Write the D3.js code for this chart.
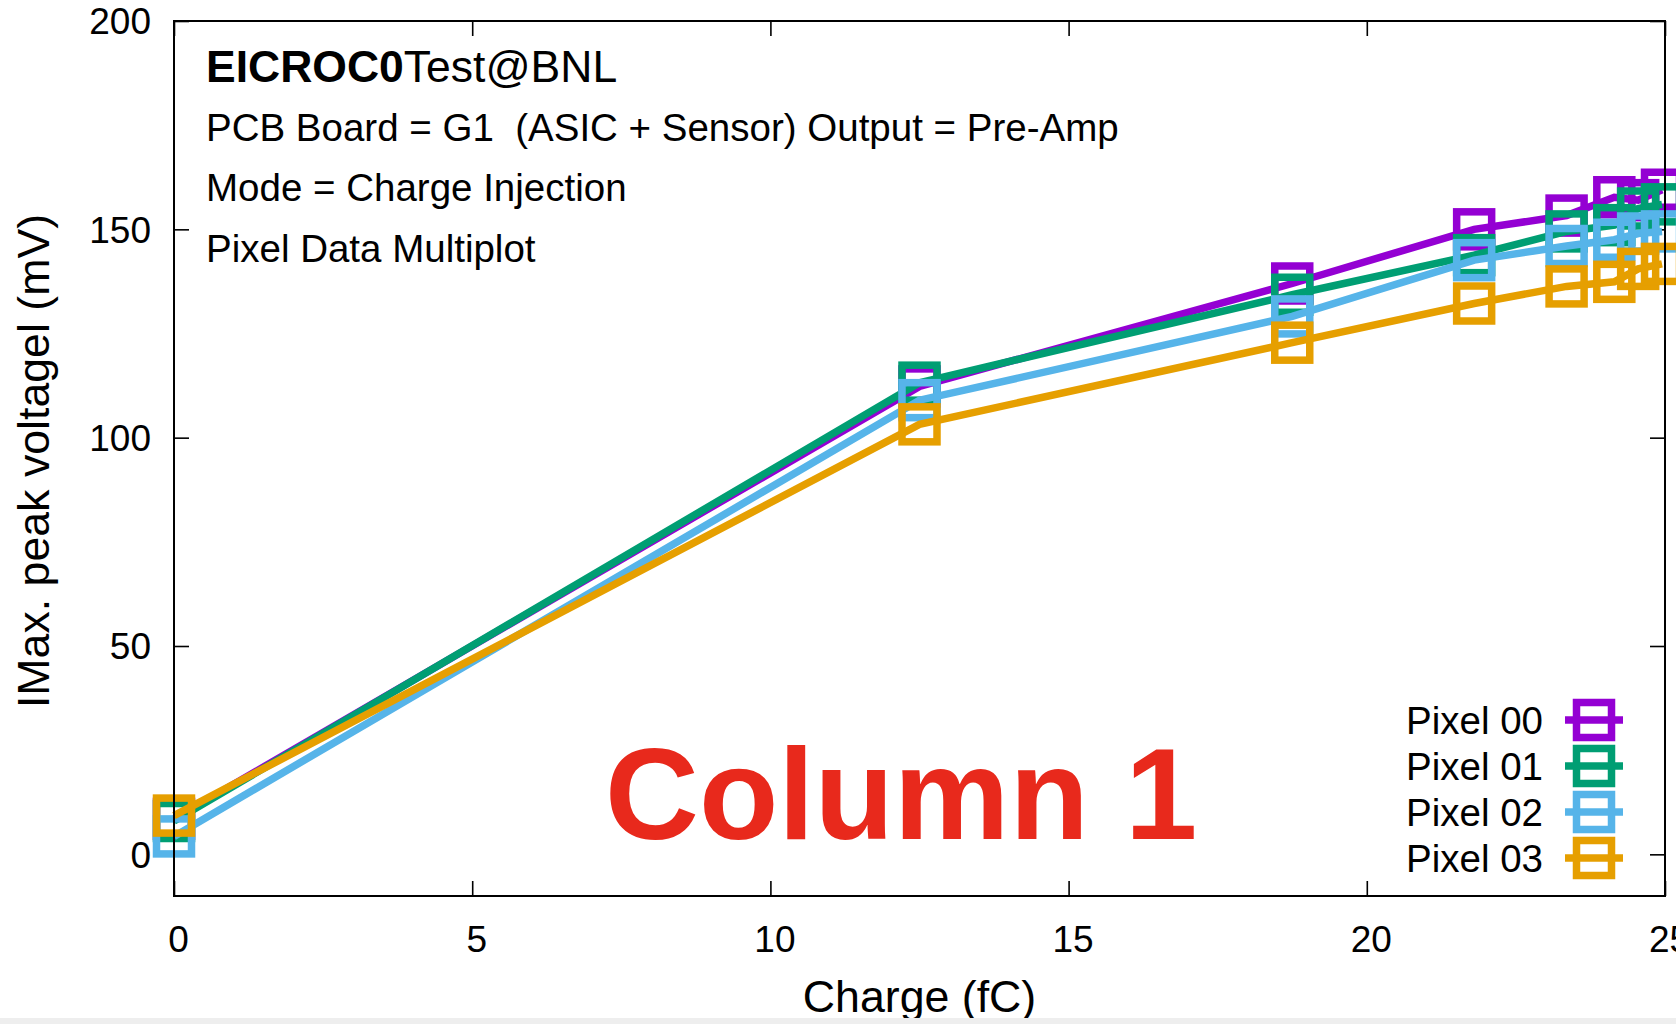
<!DOCTYPE html>
<html>
<head>
<meta charset="utf-8">
<script src="https://cdn.jsdelivr.net/npm/d3@7"></script>
<style>
  html, body { margin: 0; padding: 0; background: #fff; overflow: hidden; }
  svg { display: block; }
  text { font-family: "Liberation Sans", Arial, Helvetica, sans-serif; fill: #000; }
</style>
</head>
<body>
<svg id="chart" width="1676" height="1024"></svg>
<script>
// Injected charge (fC) for each measurement step
const charge = [0, 12.5, 18.75, 21.8, 23.35, 24.15, 24.55, 24.95];

// Max. peak voltage (mV) measured on each pixel
const pixel00 = [8.5, 112.3, 137.0, 150.0, 153.3, 157.7, 157.0, 159.5];
const pixel01 = [8.0, 113.2, 134.3, 143.8, 149.5, 151.0, 155.0, 156.0];
const pixel02 = [4.3, 109.0, 129.1, 142.6, 146.0, 147.5, 149.0, 149.5];
const pixel03 = [9.3, 103.2, 122.8, 132.2, 136.3, 137.4, 140.5, 141.7];

const seriesNames = ["Pixel 00", "Pixel 01", "Pixel 02", "Pixel 03"];
const seriesValues = [pixel00, pixel01, pixel02, pixel03];
const seriesColors = ["#9400d3", "#009e73", "#56b4e9", "#e69f00"];

const xTicks = [0, 5, 10, 15, 20, 25];
const yTicks = [0, 50, 100, 150, 200];

const infoLines = [
  "PCB Board = G1\u00a0\u00a0(ASIC + Sensor) Output = Pre-Amp",
  "Mode = Charge Injection",
  "Pixel Data Multiplot"
];

const svg = d3.select("#chart");
const plot = { left: 174, right: 1665, top: 21, bottom: 896 };

const x = d3.scaleLinear().domain([0, 25]).range([plot.left, plot.right]);
const y = d3.scaleLinear().domain([-10, 200]).range([plot.bottom, plot.top]);

const tickLen = 15;
const tickFont = 37;

// Axes with inward ticks on all four sides
function styleAxis(g) {
  g.select(".domain").remove();
  g.selectAll(".tick line").attr("stroke", "#000").attr("stroke-width", 1.6);
}

const gBottom = svg.append("g")
  .attr("transform", `translate(0,${plot.bottom})`)
  .call(d3.axisBottom(x).tickValues(xTicks).tickSizeInner(-tickLen).tickSizeOuter(0).tickFormat(d3.format("d")));
styleAxis(gBottom);
gBottom.selectAll(".tick text")
  .attr("x", 4).attr("y", 56).attr("dy", null)
  .attr("font-size", tickFont).attr("fill", "#000")
  .style("font-family", '"Liberation Sans", Arial, Helvetica, sans-serif');

const gTop = svg.append("g")
  .attr("transform", `translate(0,${plot.top})`)
  .call(d3.axisTop(x).tickValues(xTicks).tickSizeInner(-tickLen).tickSizeOuter(0).tickFormat(""));
styleAxis(gTop);

const gLeft = svg.append("g")
  .attr("transform", `translate(${plot.left},0)`)
  .call(d3.axisLeft(y).tickValues(yTicks).tickSizeInner(-tickLen).tickSizeOuter(0).tickFormat(d3.format("d")));
styleAxis(gLeft);
gLeft.selectAll(".tick text")
  .attr("x", -23).attr("dy", "0.35em")
  .attr("text-anchor", "end")
  .attr("font-size", tickFont).attr("fill", "#000")
  .style("font-family", '"Liberation Sans", Arial, Helvetica, sans-serif');

const gRight = svg.append("g")
  .attr("transform", `translate(${plot.right},0)`)
  .call(d3.axisRight(y).tickValues(yTicks).tickSizeInner(-tickLen).tickSizeOuter(0).tickFormat(""));
styleAxis(gRight);

// Data: each pixel drawn as line + open square markers
const line = d3.line().x((d, i) => x(charge[i])).y(d => y(d));
const markerSide = 35;
const strokeW = 7.5;

seriesValues.forEach((vals, s) => {
  const g = svg.append("g").attr("class", "series");
  g.append("path")
    .datum(vals)
    .attr("d", line)
    .attr("fill", "none")
    .attr("stroke", seriesColors[s])
    .attr("stroke-width", strokeW)
    .attr("stroke-linejoin", "miter");
  g.selectAll("rect")
    .data(vals)
    .join("rect")
    .attr("x", (d, i) => x(charge[i]) - markerSide / 2)
    .attr("y", d => y(d) - markerSide / 2)
    .attr("width", markerSide)
    .attr("height", markerSide)
    .attr("fill", "none")
    .attr("stroke", seriesColors[s])
    .attr("stroke-width", strokeW);
});

// Plot border drawn above the data
svg.append("rect")
  .attr("x", plot.left).attr("y", plot.top)
  .attr("width", plot.right - plot.left).attr("height", plot.bottom - plot.top)
  .attr("fill", "none").attr("stroke", "#000").attr("stroke-width", 2);

// Info block in the upper left
const info = svg.append("g").attr("font-size", 38.5);
const title = info.append("text").attr("x", 206).attr("y", 82).attr("font-size", 44.5);
title.append("tspan").attr("font-weight", "bold").text("EICROC0");
title.append("tspan").text("Test@BNL");
infoLines.forEach((t, i) => {
  info.append("text").attr("x", 206).attr("y", 141 + i * 60.3).text(t);
});

// Legend
const legendRows = [720, 766, 812, 858];
const legend = svg.append("g");
seriesNames.forEach((name, s) => {
  const cy = legendRows[s];
  legend.append("text")
    .attr("x", 1543).attr("y", cy).attr("dy", "0.36em")
    .attr("text-anchor", "end").attr("font-size", 38.5)
    .text(name);
  legend.append("line")
    .attr("x1", 1565).attr("x2", 1623).attr("y1", cy).attr("y2", cy)
    .attr("stroke", seriesColors[s]).attr("stroke-width", strokeW);
  legend.append("rect")
    .attr("x", 1594 - markerSide / 2).attr("y", cy - markerSide / 2)
    .attr("width", markerSide).attr("height", markerSide)
    .attr("fill", "none").attr("stroke", seriesColors[s]).attr("stroke-width", strokeW);
});

// Axis titles
svg.append("text")
  .attr("x", (plot.left + plot.right) / 2).attr("y", 1012)
  .attr("text-anchor", "middle").attr("font-size", 44.7)
  .text("Charge (fC)");
svg.append("text")
  .attr("transform", "translate(49,461) rotate(-90)")
  .attr("text-anchor", "middle").attr("font-size", 44.7)
  .text("IMax. peak voltagel (mV)");

// Column caption
svg.append("text")
  .attr("x", 605).attr("y", 839)
  .attr("font-size", 130).attr("font-weight", "bold")
  .style("fill", "#e8291c")
  .text("Column 1");

// Window edge strip along the bottom
svg.append("rect")
  .attr("x", 0).attr("y", 1018).attr("width", 1676).attr("height", 6)
  .attr("fill", "#eeeeee");
</script>
</body>
</html>
